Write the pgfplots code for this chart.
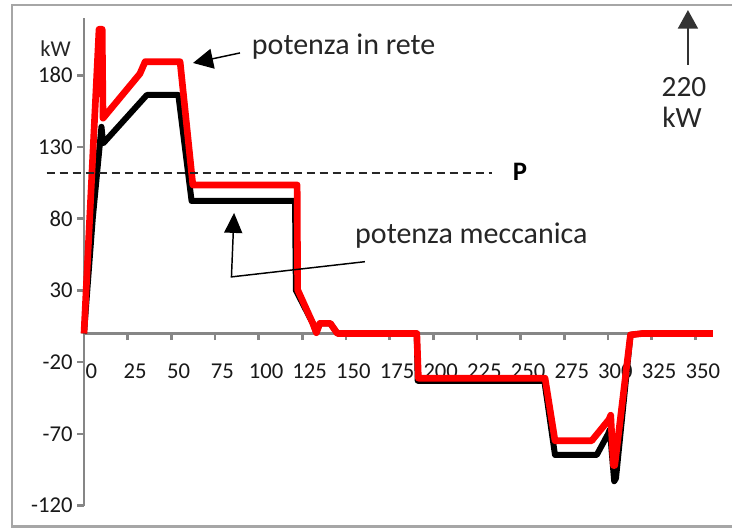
\documentclass[border=0pt]{standalone}
\usepackage{fontspec}
\setmainfont{Carlito}
\usepackage{pgfplots}
\pgfplotsset{compat=1.18}
\usetikzlibrary{arrows.meta}
\definecolor{axgray}{HTML}{868686}
\definecolor{framegray}{HTML}{A6A6A6}
\begin{document}
\begin{tikzpicture}
\begin{axis}[
 scale only axis, width=471.75pt, height=365.9pt,
 xmin=0, xmax=360, ymin=-120, ymax=220,
 axis y line=left, axis x line=middle,
 axis line style={-, draw=axgray, line width=2pt},
 every inner x axis line/.append style={-},
 every outer y axis line/.append style={-},
 hide obscured x ticks=false, hide obscured y ticks=false,
 xtick={0,25,50,75,100,125,150,175,200,225,250,275,300,325,350},
 xticklabels={0,25,50,75,100,125,150,175,200,225,250,275,300,325,350},
 ytick={180,130,80,30,-20,-70,-120},
 yticklabels={180,130,80,30,-20,-70,-120},
 tick style={draw=axgray, line width=2pt}, major tick length=5pt, tick align=outside,
 xticklabel style={font=\fontsize{17}{19}\selectfont, text=black!90, anchor=north, xshift=5.5pt, yshift=-14pt},
 yticklabel style={font=\fontsize{17}{19}\selectfont, text=black!90, anchor=east},
 clip=false,
]
\addplot[black, line width=4.5pt, line join=round] coordinates {
(0,0) (5,80) (10,144) (11,132.5) (36,166.2) (54,166.2) (61.6,92.3) (120.8,92.3)
(121.3,30) (131,7) (133,0.5) (135,7) (141,7) (145,0) (190.5,0) (191,-33)
(263.5,-33) (269.6,-84.7) (293.5,-84.7) (300,-70) (301,-67) (303.5,-103)
(304.5,-101) (312.8,-1) (320,0) (360,0)};
\addplot[red, line width=5pt, line join=round] coordinates {
(0,0) (8.6,212) (10.4,212) (10.9,150) (32,181) (35,189.4) (55,189.4)
(62.3,103.5) (122,103.5) (122.3,30.4) (131,7) (133,0.5) (135,7) (141,7)
(145,0) (190.5,0) (191.4,-31.2) (263.9,-31.2) (269.6,-74.8) (290.6,-74.8)
(300.5,-60) (301.5,-57) (303,-92) (303.8,-92) (312.8,-1) (320,0) (360,0)};
\draw[black!85, line width=1.6pt, dash pattern=on 6pt off 3.75pt] (axis cs:-21.4,111.6) -- (axis cs:233.5,111.6);
\node[font=\fontsize{20}{22}\selectfont\bfseries] at (axis cs:249.6,112.5) {P};
\node[font=\fontsize{17}{20}\selectfont, text=black!85] at (axis cs:-16.3,198.3) {kW};
\node[font=\fontsize{22.5}{26}\selectfont, text=black!85, anchor=base west, inner sep=0pt] at (axis cs:96,194.1) {potenza in rete};
\node[font=\fontsize{22.5}{26}\selectfont, text=black!85, anchor=base west, inner sep=0pt] at (axis cs:155.1,62.9) {potenza meccanica};
\draw[line width=1.1pt, -{Triangle[length=15pt,width=15pt]}] (axis cs:89.3,195.5) -- (axis cs:62.4,188.5);
\draw[line width=1.1pt, -{Triangle[length=15pt,width=13.5pt]}] (axis cs:160.8,50) -- (axis cs:84.4,39.4) -- (axis cs:85.9,84);
\draw[black!80, line width=1.5pt, -{Triangle[length=14pt,width=15pt]}] (axis cs:345.7,187.1) -- (axis cs:345.7,225.4);
\node[font=\fontsize{22}{26}\selectfont, text=black!85] at (axis cs:343.4,171.8) {220};
\node[font=\fontsize{22}{26}\selectfont, text=black!85] at (axis cs:342.3,150.9) {kW};
\draw[framegray, line width=2pt] (axis cs:380,228.9) -- (axis cs:-41.2,228.9) -- (axis cs:-41.2,-134.8) -- (axis cs:380,-134.8);
\coordinate (bbl) at (axis cs:-48.08,-135.5);
\coordinate (bbr) at (axis cs:370.92,232.4);
\end{axis}
\pgfresetboundingbox
\path[use as bounding box] (bbl) rectangle (bbr);
\end{tikzpicture}
\end{document}
